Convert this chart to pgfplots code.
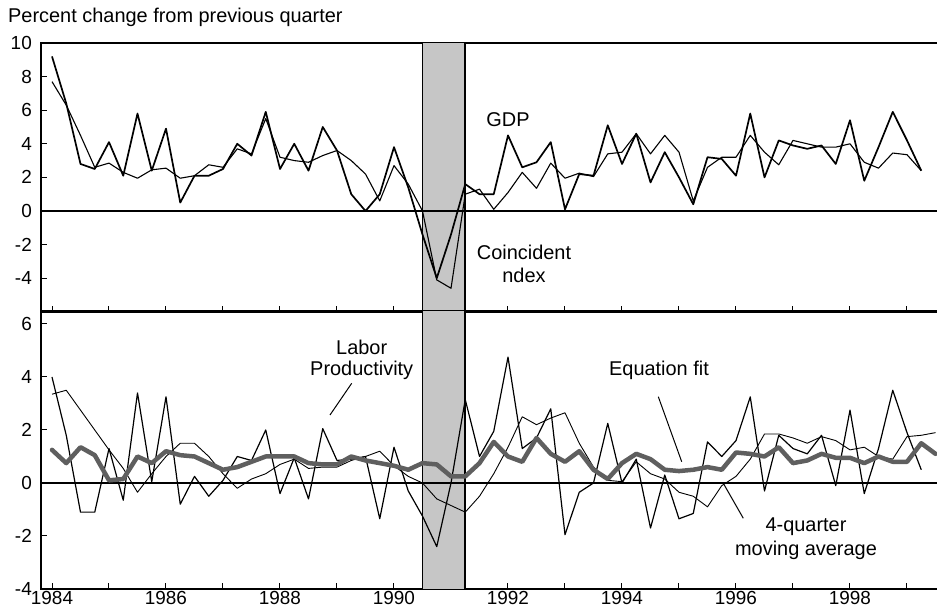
\documentclass[border=0pt]{standalone}
\usepackage{fontspec}
\setmainfont{Liberation Sans}
\usepackage{pgfplots}
\usepackage{pgfplotstable}
\pgfplotsset{compat=1.18}
\definecolor{recgray}{RGB}{198,198,198}
\definecolor{magray}{RGB}{95,95,95}
\newcommand{\txt}{\fontsize{20}{24}\selectfont}
\newcommand{\tck}{\fontsize{19}{22}\selectfont}

\pgfplotstableread{
year gdp coin
1984.00 9.2 7.7
1984.25 6.4 6.3
1984.50 2.8 4.5
1984.75 2.5 2.6
1985.00 4.1 2.85
1985.25 2.1 2.3
1985.50 5.8 1.95
1985.75 2.4 2.45
1986.00 4.9 2.55
1986.25 0.5 1.95
1986.50 2.1 2.1
1986.75 2.1 2.75
1987.00 2.5 2.6
1987.25 4.0 3.7
1987.50 3.3 3.4
1987.75 5.9 5.5
1988.00 2.5 3.2
1988.25 4.0 3.0
1988.50 2.4 2.9
1988.75 5.0 3.3
1989.00 3.6 3.6
1989.25 1.0 3.0
1989.50 0.0 2.2
1989.75 1.0 0.6
1990.00 3.8 2.7
1990.25 1.4 1.6
1990.50 -1.4 0.0
1990.75 -4.0 -4.1
1991.00 -1.4 -4.6
1991.25 1.6 1.0
1991.50 1.0 1.3
1991.75 1.0 0.1
1992.00 4.5 1.1
1992.25 2.6 2.3
1992.50 2.9 1.35
1992.75 4.1 2.85
1993.00 0.1 1.95
1993.25 2.2 2.25
1993.50 2.1 2.05
1993.75 5.1 3.4
1994.00 2.8 3.5
1994.25 4.6 4.6
1994.50 1.7 3.4
1994.75 3.5 4.5
1995.00 2.0 3.5
1995.25 0.4 0.6
1995.50 3.2 2.6
1995.75 3.1 3.2
1996.00 2.1 3.2
1996.25 5.8 4.5
1996.50 2.0 3.5
1996.75 4.2 2.75
1997.00 3.9 4.2
1997.25 3.7 4.0
1997.50 3.9 3.8
1997.75 2.8 3.8
1998.00 5.4 4.0
1998.25 1.8 2.9
1998.50 3.8 2.55
1998.75 5.9 3.45
1999.00 4.2 3.35
1999.25 2.4 2.4
}\toptable

\pgfplotstableread{
year prod fit ma
1984.00 4.0 3.35 1.25
1984.25 1.8 3.5 0.75
1984.50 -1.1 2.75 1.35
1984.75 -1.1 2.0 1.05
1985.00 1.3 1.25 0.1
1985.25 -0.65 0.55 0.15
1985.50 3.4 -0.35 1.0
1985.75 0.05 0.35 0.75
1986.00 3.25 1.0 1.2
1986.25 -0.8 1.5 1.05
1986.50 0.25 1.5 1.0
1986.75 -0.5 1.0 0.75
1987.00 0.1 0.35 0.5
1987.25 1.0 -0.2 0.6
1987.50 0.85 0.15 0.8
1987.75 2.0 0.35 1.0
1988.00 -0.4 0.7 1.0
1988.25 0.95 0.9 1.0
1988.50 -0.6 0.55 0.75
1988.75 2.05 0.6 0.7
1989.00 0.85 0.6 0.7
1989.25 0.9 0.85 1.0
1989.50 1.0 1.0 0.85
1989.75 -1.35 1.2 0.75
1990.00 1.35 0.65 0.65
1990.25 -0.3 0.25 0.5
1990.50 -1.25 0.0 0.75
1990.75 -2.4 -0.6 0.7
1991.00 0.0 -0.85 0.25
1991.25 3.15 -1.1 0.25
1991.50 1.0 -0.5 0.75
1991.75 1.95 0.35 1.55
1992.00 4.75 1.35 1.0
1992.25 1.3 2.5 0.8
1992.50 1.7 2.2 1.7
1992.75 2.8 2.45 1.1
1993.00 -1.95 2.65 0.8
1993.25 -0.35 1.5 1.2
1993.50 0.0 0.6 0.5
1993.75 2.25 0.1 0.15
1994.00 0.0 0.05 0.75
1994.25 0.9 0.8 1.1
1994.50 -1.7 0.35 0.9
1994.75 0.3 0.15 0.5
1995.00 -1.35 -0.35 0.45
1995.25 -1.15 -0.5 0.5
1995.50 1.55 -0.9 0.6
1995.75 1.0 -0.1 0.5
1996.00 1.6 0.25 1.15
1996.25 3.25 0.9 1.1
1996.50 -0.3 1.85 1.0
1996.75 1.8 1.85 1.35
1997.00 1.3 1.7 0.75
1997.25 1.1 1.5 0.85
1997.50 1.8 1.75 1.1
1997.75 -0.1 1.6 0.95
1998.00 2.75 1.25 0.95
1998.25 -0.4 1.35 0.75
1998.50 1.3 1.0 1.0
1998.75 3.5 0.9 0.8
1999.00 1.9 1.75 0.8
1999.25 0.5 1.8 1.5
1999.50 nan 1.9 1.1
}\bottable

\pgfplotsset{
  common/.style={
    scale only axis, width=899bp,
    xmin=1983.807, xmax=1999.579,
    axis line style={line width=1.6bp},
    tick style={black, line width=1bp},
    tick align=inside, major tick length=6bp,
    xtick={1984,...,1999},
    xtick pos=left, ytick pos=left,
    tick label style={font=\tck},
    yticklabel style={anchor=east, inner sep=0pt, xshift=-9bp},
    clip=true,
  }
}

\begin{document}
\begin{tikzpicture}[x=1bp,y=1bp]
% top panel
\begin{axis}[common, at={(41bp,295.2bp)}, anchor=south west, height=268.8bp,
  ymin=-6, ymax=10, ytick={-4,-2,0,2,4,6,8,10}, yticklabels={-4,-2,0,2,4,6,8,10},
  xticklabels={,,}]
\addplot[fill=recgray, draw=none] coordinates {(1990.5,-6) (1991.25,-6) (1991.25,10) (1990.5,10)} -- cycle;
\addplot[black, line width=1.8bp] coordinates {(1990.5,-6) (1990.5,10)};
\addplot[black, line width=1.8bp] coordinates {(1991.25,-6) (1991.25,10)};
\addplot[black, line width=1.8bp] coordinates {(1983,0) (2000,0)};
\addplot[black, line width=1.1bp, line join=round] table[x=year, y=coin] {\toptable};
\addplot[black, line width=1.7bp, line join=round] table[x=year, y=gdp] {\toptable};
\end{axis}
% bottom panel
\begin{axis}[common, at={(41bp,18bp)}, anchor=south west, height=278.25bp,
  ymin=-4, ymax=6.5, ytick={-4,-2,0,2,4,6}, yticklabels={-4,-2,0,2,4,6},
  xticklabels={1984,,1986,,1988,,1990,,1992,,1994,,1996,,1998,},
  xticklabel style={anchor=north, inner sep=0pt, yshift=-2bp}]
\addplot[fill=recgray, draw=none] coordinates {(1990.5,-4) (1991.25,-4) (1991.25,6.5) (1990.5,6.5)} -- cycle;
\addplot[black, line width=1.8bp] coordinates {(1990.5,-4) (1990.5,6.5)};
\addplot[black, line width=1.8bp] coordinates {(1991.25,-4) (1991.25,6.5)};
\addplot[black, line width=1.4bp] coordinates {(1983,0) (2000,0)};
\addplot[black, line width=0.9bp, line join=round] table[x=year, y=fit] {\bottable};
\addplot[black, line width=1.2bp, line join=round] table[x=year, y=prod] {\bottable};
\addplot[magray, line width=4.5bp, line join=round, line cap=round] table[x=year, y=ma] {\bottable};
\end{axis}
% annotations
\node[anchor=base west, inner sep=0pt, font=\txt] at (8,584) {Percent change from previous quarter};
\node[anchor=base, inner sep=0pt, font=\txt] at (508,480.3) {GDP};
\node[anchor=base, inner sep=0pt, font=\txt] at (524,347) {Coincident};
\node[anchor=base, inner sep=0pt, font=\txt] at (524,324) {ndex};
\node[anchor=base, inner sep=0pt, font=\txt] at (361.7,252) {Labor};
\node[anchor=base, inner sep=0pt, font=\txt] at (361.7,231) {Productivity};
\node[anchor=base, inner sep=0pt, font=\txt] at (659,231) {Equation fit};
\node[anchor=base, inner sep=0pt, font=\txt] at (806,75) {4-quarter};
\node[anchor=base, inner sep=0pt, font=\txt] at (806,51) {moving average};
\draw[line width=1bp] (351.7,223.7) -- (330,192);
\draw[line width=1bp] (658.3,210.3) -- (681.7,145.3);
\draw[line width=1bp] (723.3,123.7) -- (743.3,88.7);
\pgfresetboundingbox
\path[use as bounding box] (0,0) rectangle (937,607);
\end{tikzpicture}
\end{document}
